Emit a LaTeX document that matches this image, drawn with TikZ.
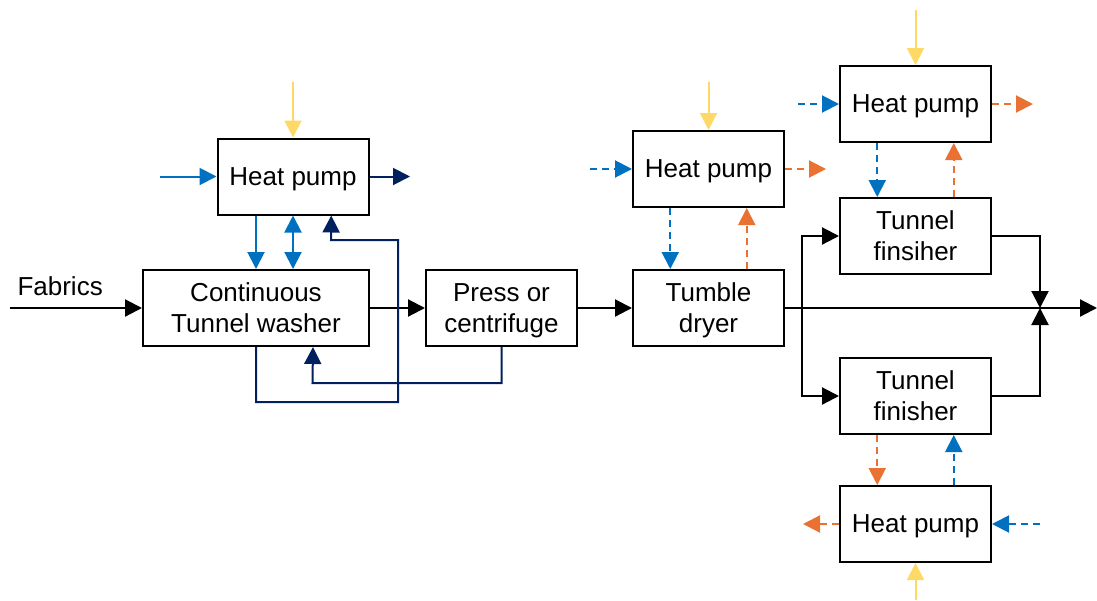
\documentclass[tikz,border=0pt]{standalone}
\usepackage{fontspec}
\setmainfont{Liberation Sans}
\usetikzlibrary{arrows.meta,calc}

\definecolor{sunny}{HTML}{FFD966}
\definecolor{coolblue}{HTML}{0070C0}
\definecolor{navyret}{HTML}{002060}
\definecolor{warmout}{HTML}{E97132}

\begin{document}
\begin{tikzpicture}[x=0.5pt,y=-0.5pt,
  box/.style={draw, line width=1pt, minimum width=75.5pt, minimum height=38pt,
    inner sep=0pt, text depth=0pt, align=center, font=\fontsize{13}{15.5}\selectfont},
  flow/.style={line width=1.1pt, -{Triangle[length=8.5pt,width=8.5pt]}},
  cflow/.style={line width=1pt, -{Triangle[length=8.5pt,width=8.5pt]}},
  dflow/.style={cflow, dash pattern=on 3.5pt off 2.5pt},
  both/.style={line width=1pt, {Triangle[length=8.5pt,width=8.5pt]}-{Triangle[length=8.5pt,width=8.5pt]}}]
\useasboundingbox (0,0) rectangle (1097,600);

% Process line
\node[box, minimum width=113pt] (wash) at (256,308) {Continuous\\Tunnel washer};
\node[box] (press) at (501.5,308) {Press or\\centrifuge};
\node[box] (dry) at (708.5,308) {Tumble\\dryer};
\node[box] (finA) at (915.5,236) {Tunnel\\finsiher};
\node[box] (finB) at (915.5,396) {Tunnel\\finisher};

% Heat pumps
\node[box] (hpA) at (293,176.5) {Heat pump};
\node[box] (hpB) at (708.5,169) {Heat pump};
\node[box] (hpC) at (915.5,104) {Heat pump};
\node[box] (hpD) at (915.5,524) {Heat pump};

% Free ends
\coordinate (feed) at (10,308);
\coordinate (exit) at (1097,308);
\coordinate (split) at (802,308);
\coordinate (merge) at (1040,308);
\coordinate (sunA) at (293,82);
\coordinate (sunB) at (708.5,82);
\coordinate (sunC) at (915.5,10);
\coordinate (sunD) at (915.5,600);
\coordinate (inA) at (160,176.5);
\coordinate (outA) at (410,176.5);
\coordinate (inB) at (590,169);
\coordinate (outB) at (826,169);
\coordinate (inC) at (798,104);
\coordinate (outC) at (1033,104);
\coordinate (inD) at (1040,524);
\coordinate (outD) at (803,524);

% Fabrics through the laundry
\draw[flow] (feed) -- (wash.west) node[pos=0.38, above=2pt, font=\fontsize{13}{15.5}\selectfont] {Fabrics};
\draw[flow] (wash) -- (press);
\draw[flow] (press) -- (dry);
\draw[flow] (dry.east) -- (exit);
\draw[flow] (split) |- (finA.west);
\draw[flow] (split) |- (finB.west);
\draw[flow] (finA.east) -| (merge);
\draw[flow] (finB.east) -| (merge);

% Electricity in
\draw[cflow, sunny] (sunA) -- (hpA.north);
\draw[cflow, sunny] (sunB) -- (hpB.north);
\draw[cflow, sunny] (sunC) -- (hpC.north);
\draw[cflow, sunny] (sunD) -- (hpD.south);

% Washer heat pump
\draw[cflow, coolblue] (inA) -- (hpA.west);
\draw[cflow, navyret] (hpA.east) -- (outA);
\draw[cflow, coolblue] (hpA.south -| wash.north) -- (wash.north);
\draw[both, coolblue] (hpA.south) -- (hpA.south |- wash.north);
\draw[cflow, navyret] (wash.south) |- (398,402) |- (331,240)
  -- ($(hpA.south west)!.75!(hpA.south east)$);
\draw[cflow, navyret] (press.south) |- (312.5,383)
  -- ($(wash.south west)!.75!(wash.south east)$);

% Dryer heat pump
\draw[dflow, coolblue] (inB) -- (hpB.west);
\draw[dflow, warmout] (hpB.east) -- (outB);
\draw[dflow, coolblue] ($(hpB.south west)!.25!(hpB.south east)$) -- ($(dry.north west)!.25!(dry.north east)$);
\draw[dflow, warmout] ($(dry.north west)!.75!(dry.north east)$) -- ($(hpB.south west)!.75!(hpB.south east)$);

% Finisher heat pumps
\draw[dflow, coolblue] (inC) -- (hpC.west);
\draw[dflow, warmout] (hpC.east) -- (outC);
\draw[dflow, coolblue] ($(hpC.south west)!.25!(hpC.south east)$) -- ($(finA.north west)!.25!(finA.north east)$);
\draw[dflow, warmout] ($(finA.north west)!.75!(finA.north east)$) -- ($(hpC.south west)!.75!(hpC.south east)$);

\draw[dflow, coolblue] (inD) -- (hpD.east);
\draw[dflow, warmout] (hpD.west) -- (outD);
\draw[dflow, warmout] ($(finB.south west)!.25!(finB.south east)$) -- ($(hpD.north west)!.25!(hpD.north east)$);
\draw[dflow, coolblue] ($(hpD.north west)!.75!(hpD.north east)$) -- ($(finB.south west)!.75!(finB.south east)$);

\end{tikzpicture}
\end{document}
